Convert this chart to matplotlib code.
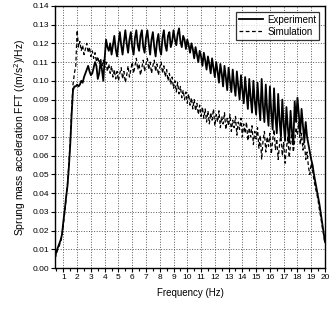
import numpy as np
import matplotlib
matplotlib.use("Agg")
import matplotlib.pyplot as plt
from matplotlib.ticker import MultipleLocator, FormatStrFormatter

plt.rcParams['font.family'] = ['Liberation Sans', 'DejaVu Sans']

# frequency samples (Hz), 0.1 Hz apart
freq = np.round(np.arange(0.4, 20.05, 0.1), 1)

# Experiment curve (solid)
experiment = [
    0.006, 0.009, 0.011, 0.013, 0.015, 0.018,
    0.025, 0.031, 0.038, 0.044, 0.054, 0.066, 0.082, 0.095, 0.097, 0.097,
    0.098, 0.097, 0.098, 0.100, 0.099, 0.102, 0.104, 0.106, 0.108, 0.105,
    0.103, 0.104, 0.107, 0.110, 0.108, 0.101, 0.104, 0.110, 0.106, 0.100,
    0.112, 0.122, 0.118, 0.116, 0.120, 0.114, 0.119, 0.124, 0.117, 0.113,
    0.120, 0.126, 0.119, 0.114, 0.121, 0.127, 0.120, 0.115, 0.122, 0.126,
    0.118, 0.114, 0.123, 0.127, 0.119, 0.116, 0.124, 0.127, 0.118, 0.115,
    0.123, 0.127, 0.120, 0.114, 0.122, 0.126, 0.118, 0.113, 0.121, 0.125,
    0.117, 0.114, 0.123, 0.127, 0.119, 0.116, 0.124, 0.126, 0.118, 0.121,
    0.127, 0.122, 0.119, 0.125, 0.128, 0.121, 0.118, 0.124, 0.122, 0.117,
    0.122, 0.119, 0.115, 0.120, 0.117, 0.112, 0.118, 0.114, 0.110, 0.116,
    0.113, 0.108, 0.115, 0.111, 0.106, 0.113, 0.109, 0.104, 0.112, 0.107,
    0.102, 0.110, 0.105, 0.099, 0.109, 0.104, 0.097, 0.108, 0.102, 0.095,
    0.107, 0.100, 0.094, 0.106, 0.098, 0.092, 0.105, 0.097, 0.090, 0.103,
    0.095, 0.088, 0.102, 0.093, 0.085, 0.101, 0.091, 0.083, 0.100, 0.089,
    0.082, 0.099, 0.088, 0.079, 0.101, 0.086, 0.078, 0.098, 0.084, 0.076,
    0.097, 0.083, 0.074, 0.096, 0.081, 0.072, 0.093, 0.079, 0.070, 0.090,
    0.077, 0.068, 0.086, 0.075, 0.067, 0.084, 0.073, 0.066, 0.089, 0.078,
    0.091, 0.082, 0.072, 0.085, 0.076, 0.068, 0.078, 0.070, 0.066, 0.062,
    0.058, 0.055, 0.050, 0.046, 0.042, 0.038, 0.034, 0.029, 0.024, 0.019,
    0.014,
]

# Simulation curve (dashed)
simulation = [
    0.005, 0.008, 0.010, 0.012, 0.014, 0.017,
    0.023, 0.030, 0.037, 0.045, 0.056, 0.068, 0.085, 0.098, 0.104, 0.108,
    0.127, 0.118, 0.121, 0.116, 0.119, 0.114, 0.117, 0.120, 0.115, 0.118,
    0.113, 0.116, 0.112, 0.115, 0.110, 0.113, 0.109, 0.112, 0.108, 0.111,
    0.107, 0.110, 0.105, 0.109, 0.104, 0.108, 0.102, 0.106, 0.101, 0.105,
    0.100, 0.104, 0.107, 0.101, 0.105, 0.099, 0.103, 0.108, 0.102, 0.106,
    0.110, 0.104, 0.108, 0.112, 0.106, 0.109, 0.103, 0.107, 0.111, 0.105,
    0.109, 0.112, 0.106, 0.110, 0.104, 0.108, 0.111, 0.105, 0.109, 0.103,
    0.107, 0.110, 0.104, 0.108, 0.102, 0.106, 0.100, 0.104, 0.098, 0.102,
    0.096, 0.100, 0.094, 0.099, 0.093, 0.097, 0.091, 0.095, 0.090, 0.094,
    0.088, 0.093, 0.087, 0.091, 0.085, 0.090, 0.084, 0.088, 0.082, 0.087,
    0.081, 0.086, 0.080, 0.085, 0.078, 0.084, 0.077, 0.083, 0.079, 0.085,
    0.076, 0.082, 0.078, 0.084, 0.075, 0.081, 0.077, 0.083, 0.074, 0.080,
    0.076, 0.082, 0.073, 0.079, 0.075, 0.081, 0.071, 0.078, 0.074, 0.080,
    0.070, 0.077, 0.072, 0.078, 0.068, 0.075, 0.070, 0.076, 0.066, 0.073,
    0.069, 0.075, 0.064, 0.071, 0.058, 0.068, 0.073, 0.062, 0.070, 0.065,
    0.072, 0.061, 0.068, 0.074, 0.063, 0.069, 0.058, 0.066, 0.072, 0.060,
    0.067, 0.056, 0.064, 0.070, 0.059, 0.066, 0.072, 0.062, 0.068, 0.075,
    0.071, 0.078, 0.066, 0.072, 0.063, 0.069, 0.058, 0.062, 0.054, 0.050,
    0.056, 0.052, 0.047, 0.043, 0.040, 0.036, 0.031, 0.027, 0.022, 0.018,
    0.013,
]

fig = plt.figure(figsize=(3.34, 3.10), dpi=100)
ax = fig.add_axes([0.165, 0.135, 0.808, 0.846])

ax.plot(freq, experiment, color='black', lw=1.3, label='Experiment')
ax.plot(freq, simulation, color='black', lw=0.9, ls=(0, (3, 2)), label='Simulation')

ax.set_xlim(0.4, 20)
ax.set_ylim(0, 0.14)
ax.xaxis.set_major_locator(MultipleLocator(1))
ax.xaxis.set_minor_locator(MultipleLocator(0.5))
ax.yaxis.set_major_locator(MultipleLocator(0.01))
ax.yaxis.set_major_formatter(FormatStrFormatter('%.2f'))
ax.tick_params(axis='both', labelsize=6, length=3, width=0.8, pad=1.5)
ax.tick_params(axis='x', which='minor', length=2, width=0.8)
ax.grid(True, which='major', ls=':', lw=0.7, color='0.35')
for s in ax.spines.values():
    s.set_linewidth(1.0)

ax.set_xlabel('Frequency (Hz)', fontsize=7, labelpad=5)
ax.set_ylabel('Sprung mass acceleration FFT ((m/s$^2$)/Hz)', fontsize=7.5, labelpad=3)

leg = ax.legend(loc='upper right', fontsize=7, frameon=True, fancybox=False,
                edgecolor='black', handlelength=2.5, borderpad=0.3,
                labelspacing=0.2, handletextpad=0.4, borderaxespad=0.6)
leg.get_frame().set_linewidth(0.9)

fig.savefig('out.png', dpi=100)
